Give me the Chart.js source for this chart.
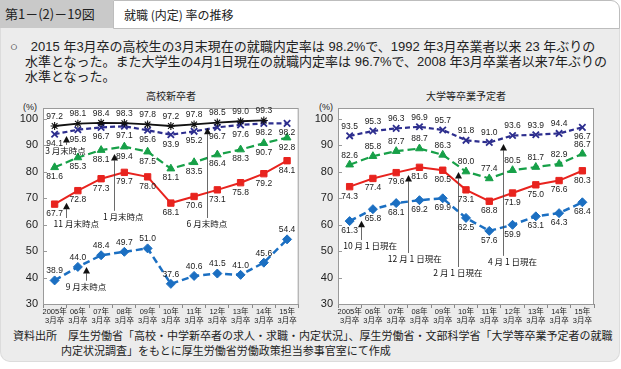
<!DOCTYPE html>
<html lang="ja">
<head>
<meta charset="utf-8">
<script src="https://cdn.jsdelivr.net/npm/chart.js@4"></script>
<style>
  body { margin: 0; width: 621px; height: 369px; background: #fff; position: relative; overflow: hidden;
         font-family: 'Liberation Sans', 'Noto Sans CJK JP', sans-serif; color: #222; }
  .abs { position: absolute; }
  #tab { left: 0; top: 0; width: 113px; height: 28px; background: #c9c9c9; font-size: 13px; line-height: 28px; text-indent: 5px;
         font-family: 'Noto Sans CJK JP', sans-serif; }
  #head { left: 113px; top: 0; width: 505px; height: 27px; background: #fff; border: 1px solid #bdbdbd; border-radius: 0 9px 0 0;
          font-size: 12px; line-height: 27px; text-indent: 10px; font-family: 'Noto Sans CJK JP', sans-serif; }
  #panel { left: 0; top: 28px; width: 618px; height: 333px; background: #ececec; border: 1px solid #dcdcdc; border-top: none;
           border-radius: 0 0 10px 10px; }
  #lead { left: 10px; top: 39px; font-size: 13px; line-height: 15px; white-space: nowrap; }
  #lead .ind { padding-left: 15px; }
  .ttl { top: 88px; font-size: 10px; font-family: 'Noto Sans CJK JP', sans-serif; text-align: center; width: 160px; }
  .pct { top: 102px; font-size: 9px; }
  #src { left: 13px; top: 328px; font-size: 11px; line-height: 15px; white-space: nowrap; font-family: 'Noto Sans CJK JP', sans-serif; }
  canvas { position: absolute; top: 85px; }
</style>
</head>
<body>
<div id="panel" class="abs"></div>
<div id="tab" class="abs">第1－(2)－19図</div>
<div id="head" class="abs">就職 (内定) 率の推移</div>
<div id="lead" class="abs">
  <div>○　2015 年3月卒の高校生の3月末現在の就職内定率は 98.2%で、1992 年3月卒業者以来 23 年ぶりの</div>
  <div class="ind">水準となった。また大学生の4月1日現在の就職内定率は 96.7%で、2008 年3月卒業者以来7年ぶりの</div>
  <div class="ind">水準となった。</div>
</div>
<div class="abs ttl" style="left:91px">高校新卒者</div>
<div class="abs ttl" style="left:386px">大学等卒業予定者</div>
<div class="abs pct" style="left:23px">(%)</div>
<div class="abs pct" style="left:319px">(%)</div>
<canvas id="hsChart" width="305" height="240" style="left:0"></canvas>
<canvas id="uniChart" width="316" height="240" style="left:305px"></canvas>
<div id="src" class="abs">
  <div>資料出所　厚生労働省「高校・中学新卒者の求人・求職・内定状況」、厚生労働省・文部科学省「大学等卒業予定者の就職</div>
  <div style="padding-left:48px">内定状況調査」をもとに厚生労働省労働政策担当参事官室にて作成</div>
</div>
<script>
const years = ['2005年', '06年', '07年', '08年', '09年', '10年', '11年', '12年', '13年', '14年', '15年'];
const gradMonth = '3月卒';
const yTicks = [30, 40, 50, 60, 70, 80, 90, 100];

// 高校新卒者
const hsJune = [97.2, 98.1, 98.4, 98.3, 97.8, 97.2, 97.8, 98.5, 99.0, 99.3, null];
const hsMarch = [94.1, 95.8, 96.7, 97.1, 95.6, 93.9, 95.2, 96.7, 97.6, 98.2, 98.2];
const hsJan = [81.6, 85.3, 88.1, 89.4, 87.5, 81.1, 83.5, 86.4, 88.3, 90.7, 92.8];
const hsNov = [67.7, 72.8, 77.3, 79.7, 78.0, 68.1, 70.6, 73.1, 75.8, 79.2, 84.1];
const hsSep = [38.9, 44.0, 48.4, 49.7, 51.0, 37.6, 40.6, 41.5, 41.0, 45.6, 54.4];

// 大学等卒業予定者
const uniApr = [93.5, 95.3, 96.3, 96.9, 95.7, 91.8, 91.0, 93.6, 93.9, 94.4, 96.7];
const uniFeb = [82.6, 85.8, 87.7, 88.7, 86.3, 80.0, 77.4, 80.5, 81.7, 82.9, 86.7];
const uniDec = [74.3, 77.4, 79.6, 81.6, 80.5, 73.1, 68.8, 71.9, 75.0, 76.6, 80.3];
const uniOct = [61.3, 65.8, 68.1, 69.2, 69.9, 62.5, 57.6, 59.9, 63.1, 64.3, 68.4];

// annotation arrows: x = category index, tip/ty in % units
const hsNotes = [
    { text: '3 月末時点', x: 0.5, tip: 93.4, tx: 0.47, ty: 87.8 },
    { text: '1 月末時点', x: 2.55, tip: 86.6, tx: 2.95, ty: 62.9 },
    { text: '11 月末時点', x: 0.5, tip: 68.2, tx: 0.93, ty: 60.2 },
    { text: '9 月末時点', x: 1.35, tip: 44.0, tx: 1.35, ty: 36.5 },
    { text: '6 月末時点', x: 6.55, tip: 96.5, tx: 6.55, ty: 60.2 }
];
const uniNotes = [
    { text: '10 月 1 日現在', x: 0.5, tip: 61.4, tx: 0.88, ty: 51.9 },
    { text: '12 月 1 日現在', x: 2.5, tip: 78.7, tx: 2.8, ty: 47.0 },
    { text: '2 月 1 日現在', x: 4.65, tip: 79.8, tx: 4.65, ty: 41.7 },
    { text: '4 月 1 日現在', x: 6.58, tip: 90.4, tx: 7.0, ty: 45.9 }
];

const numFont = "'Liberation Sans', 'Noto Sans CJK JP', sans-serif";

function series(data, color, dash, style, width, pos) {
    const thin = style === 'star';
    return {
        data: data,
        borderColor: color,
        backgroundColor: color,
        borderDash: dash,
        borderWidth: width,
        pointStyle: style,
        pointRadius: thin ? 4 : 4.5,
        pointBorderWidth: thin ? 1.1 : (style === 'crossRot' ? 1.8 : 1),
        pointBorderColor: color,
        pointBackgroundColor: color,
        tension: 0,
        labelPos: pos
    };
}

const boxPlugin = {
    id: 'box',
    beforeDatasetsDraw(chart) {
        const a = chart.chartArea;
        const ctx = chart.ctx;
        ctx.save();
        ctx.fillStyle = '#fff';
        ctx.fillRect(a.left, a.top, a.right - a.left, a.bottom - a.top);
        ctx.strokeStyle = '#9a9a9a';
        ctx.lineWidth = 1;
        ctx.strokeRect(a.left + 0.5, a.top + 0.5, a.right - a.left - 1, a.bottom - a.top);
        const y = chart.scales.y;
        ctx.beginPath();
        yTicks.forEach(function (v) {
            const py = Math.round(y.getPixelForValue(v)) + 0.5;
            ctx.moveTo(a.left, py);
            ctx.lineTo(a.left + 4, py);
        });
        ctx.stroke();
        ctx.restore();
    },
    afterDatasetsDraw(chart) {
        const ctx = chart.ctx;
        ctx.save();
        ctx.font = '8.5px ' + numFont;
        ctx.fillStyle = '#222';
        ctx.textAlign = 'center';
        ctx.textBaseline = 'middle';
        chart.data.datasets.forEach(function (ds, i) {
            const meta = chart.getDatasetMeta(i);
            meta.data.forEach(function (pt, j) {
                const v = ds.data[j];
                if (v === null) return;
                const pos = Array.isArray(ds.labelPos) ? ds.labelPos[j] : ds.labelPos;
                ctx.fillText(v.toFixed(1), pt.x, pt.y + (pos === 'up' ? -9.5 : 9.5));
            });
        });

        const notes = chart.options.plugins.box.notes;
        const x = chart.scales.x, y = chart.scales.y;
        ctx.fillStyle = '#111';
        ctx.strokeStyle = '#444';
        ctx.lineWidth = 0.8;
        ctx.font = "8.5px 'Noto Sans CJK JP', sans-serif";
        notes.forEach(function (n) {
            const px = Math.round(x.getPixelForValue(n.x)) + 0.5;
            const py = y.getPixelForValue(n.tip);
            const ty = y.getPixelForValue(n.ty);
            ctx.beginPath();
            ctx.moveTo(px, py);
            ctx.lineTo(px - 3.5, py + 6.5);
            ctx.lineTo(px + 3.5, py + 6.5);
            ctx.closePath();
            ctx.fill();
            if (ty - 6 > py + 6.5) {
                ctx.beginPath();
                ctx.moveTo(px, py + 6);
                ctx.lineTo(px, ty - 6);
                ctx.stroke();
            }
            ctx.fillText(n.text, x.getPixelForValue(n.tx), ty);
        });
        ctx.restore();
    }
};

function makeChart(id, datasets, notes, yWidth, padRight) {
    return new Chart(document.getElementById(id), {
        type: 'line',
        data: {
            labels: years.map(function (y) { return [y, gradMonth]; }),
            datasets: datasets
        },
        plugins: [boxPlugin],
        options: {
            responsive: false,
            animation: false,
            layout: { padding: { top: 23, right: padRight, left: 0, bottom: 0 } },
            plugins: {
                legend: { display: false },
                tooltip: { enabled: false },
                box: { notes: notes }
            },
            scales: {
                x: {
                    offset: true,
                    grid: { offset: true, drawOnChartArea: false, tickLength: 4, color: '#888' },
                    border: { display: false },
                    ticks: {
                        autoSkip: false, maxRotation: 0, minRotation: 0, padding: 0,
                        color: '#222', font: { size: 7.5, family: numFont, lineHeight: 1.15 }
                    },
                    afterFit: function (s) { s.height = 21; }
                },
                y: {
                    min: 30,
                    max: 104,
                    grid: { display: false, drawTicks: false },
                    border: { display: false },
                    afterBuildTicks: function (s) {
                        s.ticks = yTicks.map(function (v) { return { value: v }; });
                    },
                    ticks: { padding: 5, color: '#222', font: { size: 11, family: numFont } },
                    afterFit: function (s) { s.width = yWidth; }
                }
            }
        }
    });
}

makeChart('hsChart', [
    series(hsJune, '#111111', [], 'star', 1.8, 'up'),
    series(hsMarch, '#2d2e8e', [5, 3], 'crossRot', 2.2, 'down'),
    series(hsJan, '#17a048', [8, 4], 'triangle', 2.2, 'down'),
    series(hsNov, '#e8231e', [], 'rect', 2, 'down'),
    series(hsSep, '#1b6fc2', [7, 4], 'rectRot', 2.5, 'up')
], hsNotes, 43, 6);

makeChart('uniChart', [
    series(uniApr, '#2d2e8e', [5, 3], 'crossRot', 2.2,
        ['up', 'up', 'up', 'up', 'up', 'up', 'up', 'up', 'up', 'up', 'down']),
    series(uniFeb, '#17a048', [8, 4], 'triangle', 2.2, 'up'),
    series(uniDec, '#e8231e', [], 'rect', 2, 'down'),
    series(uniOct, '#1b6fc2', [7, 4], 'rectRot', 2.5, 'down')
], uniNotes, 33, 27);
</script>
</body>
</html>
